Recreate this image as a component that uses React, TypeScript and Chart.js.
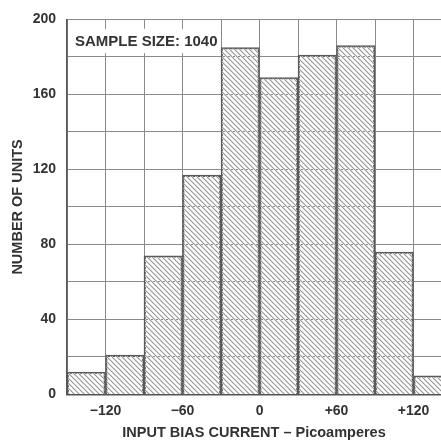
import { useEffect, useRef } from 'react';
import { Chart, registerables } from 'chart.js';

Chart.register(...registerables);

// Histogram bins (centre of each 30 pA wide bin) and unit counts
const binCenters = [-135, -105, -75, -45, -15, 15, 45, 75, 105, 135];
const unitCounts = [12, 21, 74, 117, 185, 169, 181, 186, 76, 10];

// Axis ticks
const xGridValues = [-150, -120, -90, -60, -30, 0, 30, 60, 90, 120];
const xLabelValues = [-120, -60, 0, 60, 120];
const xLabelTexts = ['\u2212120', '\u221260', '0', '+60', '+120'];
const yLabelValues = [0, 40, 80, 120, 160, 200];

const sampleText = 'SAMPLE SIZE: 1040';
const xTitle = 'INPUT BIAS CURRENT \u2013 Picoamperes';
const yTitle = 'NUMBER OF UNITS';

const FONT = '"Liberation Sans", Arial, Helvetica, sans-serif';
const TEXT = '#333333';
const GRID = '#8a8a8a';

function makeHatch(): CanvasPattern | string {
  const c = document.createElement('canvas');
  c.width = 5;
  c.height = 5;
  const g = c.getContext('2d');
  if (!g) return '#ddd';
  for (let i = 0; i < 5; i++) {
    g.fillStyle = '#9a9a9a';
    g.fillRect(i, i, 1, 1);
    g.fillStyle = '#d4d4d4';
    g.fillRect((i + 1) % 5, i, 1, 1);
    g.fillStyle = '#ececec';
    g.fillRect(i, (i + 1) % 5, 1, 1);
  }
  const p = g.createPattern(c, 'repeat');
  return p || '#ddd';
}

const sampleBoxPlugin = {
  id: 'sampleBox',
  afterDatasetsDraw(chart: any) {
    const { ctx, scales } = chart;
    const x = scales.x;
    const y = scales.y;
    const left = x.getPixelForValue(-150) + 1;
    const right = x.getPixelForValue(-30) - 1;
    const top = y.getPixelForValue(195);
    const bottom = y.getPixelForValue(182);
    ctx.save();
    ctx.fillStyle = '#ffffff';
    ctx.fillRect(left, top, right - left, bottom - top);
    ctx.fillStyle = TEXT;
    ctx.font = `bold 15px ${FONT}`;
    ctx.textAlign = 'left';
    ctx.textBaseline = 'middle';
    ctx.fillText(sampleText, left + 7, (top + bottom) / 2 + 0.5);
    ctx.restore();
  },
};

export default function App() {
  const ref = useRef<HTMLCanvasElement | null>(null);

  useEffect(() => {
    document.body.style.margin = '0';
    const canvas = ref.current;
    if (!canvas) return;
    const hatch = makeHatch();
    const chart = new Chart(canvas, {
      type: 'bar',
      data: {
        datasets: [
          {
            data: binCenters.map((x, i) => ({ x, y: unitCounts[i] })),
            backgroundColor: hatch as any,
            borderColor: '#5a5a5a',
            borderWidth: 1.5,
            barPercentage: 1,
            categoryPercentage: 1,
          },
        ],
      },
      options: {
        responsive: false,
        animation: false,
        layout: { padding: { top: 3.4, left: 0, right: 0, bottom: 0 } },
        plugins: {
          legend: { display: false },
          tooltip: { enabled: false },
        },
        scales: {
          x: {
            type: 'linear',
            offset: false,
            min: -150,
            max: 141.4,
            afterBuildTicks: (scale: any) => {
              scale.ticks = xGridValues.map((v) => ({ value: v }));
            },
            afterFit: (scale: any) => {
              scale.height = 49.5;
            },
            grid: { color: GRID, lineWidth: 1, drawTicks: false, offset: false },
            border: { display: true, color: '#555555', width: 1.5 },
            ticks: {
              padding: 8,
              color: TEXT,
              font: { family: FONT, size: 14, weight: 'bold' },
              maxRotation: 0,
              autoSkip: false,
              callback: (v: any) => {
                const idx = xLabelValues.indexOf(Number(v));
                return idx >= 0 ? xLabelTexts[idx] : '';
              },
            },
            title: {
              display: true,
              text: xTitle,
              color: TEXT,
              font: { family: FONT, size: 14.5, weight: 'bold' },
              padding: { top: 0, bottom: 2.3 },
            },
          },
          y: {
            type: 'linear',
            min: 0,
            max: 200,
            afterFit: (scale: any) => {
              scale.width = 67;
            },
            grid: { color: GRID, lineWidth: 1, drawTicks: false },
            border: { display: true, color: '#555555', width: 1.5 },
            ticks: {
              stepSize: 20,
              padding: 11,
              color: TEXT,
              font: { family: FONT, size: 14, weight: 'bold' },
              autoSkip: false,
              callback: (v: any) => (yLabelValues.includes(Number(v)) ? String(v) : ''),
            },
            title: {
              display: true,
              text: yTitle,
              color: TEXT,
              font: { family: FONT, size: 14.5, weight: 'bold' },
              padding: { top: 9.3, bottom: 0 },
            },
          },
        },
      },
      plugins: [sampleBoxPlugin],
    } as any);
    return () => chart.destroy();
  }, []);

  return (
    <div style={{ width: 441, height: 444, overflow: 'hidden', background: '#fff' }}>
      <canvas ref={ref} width={441} height={444} />
    </div>
  );
}
